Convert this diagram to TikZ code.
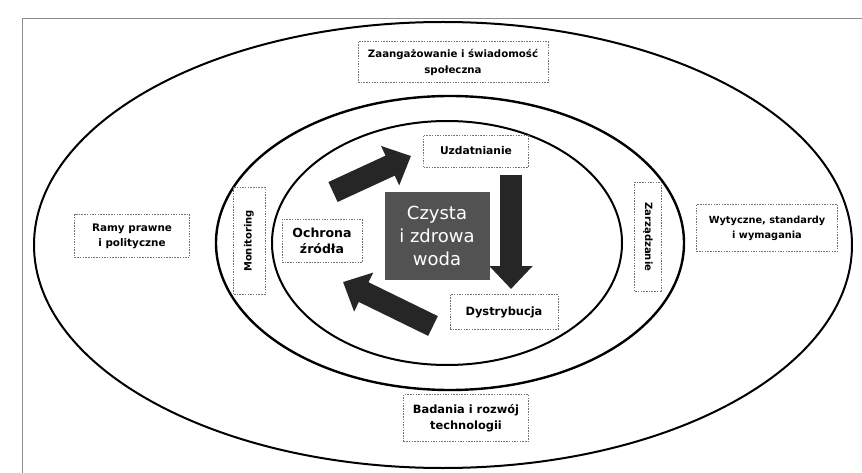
\documentclass[tikz,border=0pt]{standalone}
\usepackage{fontspec}
\setmainfont{DejaVu Sans}
\usetikzlibrary{arrows.meta}
\begin{document}
\begin{tikzpicture}[x=1pt,y=-1pt,
  lbl/.style={draw=black!55, dash pattern=on 1.5pt off 1.2pt, line width=0.6pt,
    align=center, inner sep=0pt, text=black},
  fs/.style 2 args={font=\bfseries\fontsize{#1}{#2}\selectfont},
  ring/.style={draw=black, line width=2pt},
  blockarrow/.style={line width=22pt, draw=black!85, -{Triangle[length=23pt,width=42pt]}}]
\useasboundingbox (0,0) rectangle (862,473);
% frame
\draw[black!45, line width=0.5pt] (22,473) -- (22,18) -- (862,18);
% rings
\draw[ring] (443,245) ellipse [x radius=409, y radius=223];
\draw[ring, line width=2.4pt] (450,243) ellipse [x radius=234, y radius=147];
\draw[ring] (447,243) ellipse [x radius=175, y radius=122];
% outer labels
\node[lbl, fs={10.2}{16}, minimum width=190, minimum height=41] (zaang) at (453,62) {Zaangażowanie i świadomość\\społeczna};
\node[lbl, fs={10.4}{15}, minimum width=115, minimum height=43] (ramy) at (132,236) {Ramy prawne\\i polityczne};
\node[lbl, fs={9.8}{15}, minimum width=141, minimum height=47] (wyt) at (767,228) {Wytyczne, standardy\\i wymagania};
\node[lbl, fs={11.4}{16}, minimum width=125, minimum height=47] (bad) at (466,418) {Badania i rozwój\\technologii};
% middle ring labels
\node[lbl, fs={10}{12}, rotate=90, minimum width=107, minimum height=32] (mon) at (249,241) {Monitoring};
\node[lbl, fs={10}{12}, rotate=-90, minimum width=109, minimum height=27] (zarz) at (648,237) {Zarządzanie};
% inner labels
\node[lbl, fs={12.5}{16}, minimum width=80, minimum height=43] (ochr) at (322,241) {Ochrona\\źródła};
\node[lbl, fs={10.7}{13}, minimum width=105, minimum height=32] (uzd) at (476,151) {Uzdatnianie};
\node[lbl, fs={11.4}{14}, minimum width=108, minimum height=35] (dys) at (504,312) {Dystrybucja};
% centre
\node[fill=black!68, minimum width=105, minimum height=88, inner sep=0pt, align=center,
  text=white, font=\fontsize{18}{23}\selectfont] (woda) at (437,236) {Czysta\\i zdrowa\\woda};
% block arrows
\coordinate (a1s) at (333,192); \coordinate (a1e) at (411,156);
\coordinate (a2s) at (511,175); \coordinate (a2e) at (511,289);
\coordinate (a3s) at (433,326); \coordinate (a3e) at (343,282);
\draw[blockarrow] (a1s) -- (a1e);
\draw[blockarrow] (a2s) -- (a2e);
\draw[blockarrow] (a3s) -- (a3e);
\end{tikzpicture}
\end{document}
